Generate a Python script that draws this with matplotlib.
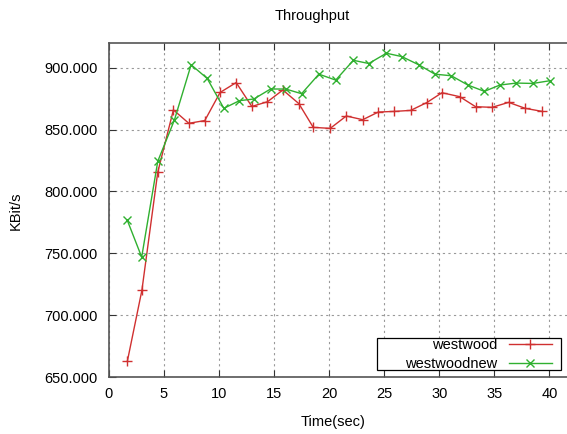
import matplotlib.pyplot as plt
from matplotlib.patches import Rectangle

plt.rcParams['font.family'] = ['Liberation Sans', 'DejaVu Sans']

# westwood series
t_westwood = [1.68, 3.0, 4.44, 5.86, 7.26, 8.71, 10.1, 11.56, 12.98, 14.4, 15.8, 17.25, 18.56, 20.1,
              21.56, 23.05, 24.47, 25.9, 27.4, 28.86, 30.25, 31.86, 33.3, 34.8, 36.3, 37.8, 39.35]
kbit_westwood = [662.9, 720.2, 815.6, 865.9, 855.1, 857.3, 880.0, 888.0, 868.7, 872.5, 882.0, 871.0, 851.8, 851.0,
                 861.0, 858.0, 864.2, 864.7, 865.5, 871.8, 879.8, 876.6, 868.5, 868.0, 872.0, 867.2, 864.7]

# westwoodnew series
t_new = [1.68, 2.98, 4.44, 5.95, 7.47, 8.93, 10.44, 11.86, 13.16, 14.68, 16.05, 17.5, 19.07, 20.6,
         22.2, 23.6, 25.2, 26.6, 28.2, 29.6, 31.1, 32.6, 34.1, 35.5, 37.0, 38.5, 40.05]
kbit_new = [776.6, 747.0, 824.4, 857.7, 902.4, 891.3, 867.2, 873.4, 874.7, 882.8, 882.8, 879.0, 894.8, 890.0,
            906.0, 903.4, 911.7, 909.0, 902.1, 894.8, 893.5, 886.0, 880.9, 886.0, 887.6, 887.3, 889.5]

x_ticks = [0, 5, 10, 15, 20, 25, 30, 35, 40]
y_ticks = [650, 700, 750, 800, 850, 900]

fig = plt.figure(figsize=(5.67, 4.34), dpi=100)
ax = fig.add_axes([0.192, 0.131, 0.808, 0.770])

ax.plot(t_westwood, kbit_westwood, color='#d03030', lw=1.0, marker='+', ms=7, mew=1.0, label='westwood')
ax.plot(t_new, kbit_new, color='#30b030', lw=1.0, marker='x', ms=6, mew=1.0, label='westwoodnew')

ax.set_xlim(0, 41.6)
ax.set_ylim(650, 920)
ax.set_xticks(x_ticks)
ax.set_yticks(y_ticks)
ax.set_yticklabels([f"{v:.3f}" for v in y_ticks])
ax.tick_params(direction='in', labelsize=10.5, top=True, length=5, color='#333333')
ax.tick_params(axis='x', pad=7)
ax.tick_params(axis='y', pad=8)
ax.grid(True, linestyle=(0, (2, 3)), color='#999999', lw=0.8)
ax.spines['right'].set_visible(False)
for s in ['left', 'top', 'bottom']:
    ax.spines[s].set_color('#555555')
    ax.spines[s].set_linewidth(1.2)

fig.text(0.55, 0.963, 'Throughput', ha='center', va='center', fontsize=10.5)
fig.text(0.027, 0.515, 'KBit/s', ha='center', va='center', rotation=90, fontsize=10.5)
fig.text(0.588, 0.027, 'Time(sec)', ha='center', va='center', fontsize=10.5)

# gnuplot style key: text right aligned, sample on the right, wide box
leg = ax.legend(loc='lower right', bbox_to_anchor=(0.967, 0.018), markerfirst=False, fontsize=10.5,
                frameon=False, borderpad=0, labelspacing=0.35, numpoints=1,
                handlelength=2.95, handletextpad=0.8, borderaxespad=0)
leg.set_zorder(6)
for t in leg.get_texts():
    t.set_ha('right')
ax.add_patch(Rectangle((0.585, 0.021), 0.402, 0.096, transform=ax.transAxes, facecolor='white',
                       edgecolor='black', lw=0.9, clip_on=False, zorder=4.5))

fig.savefig('out.png', dpi=100)
